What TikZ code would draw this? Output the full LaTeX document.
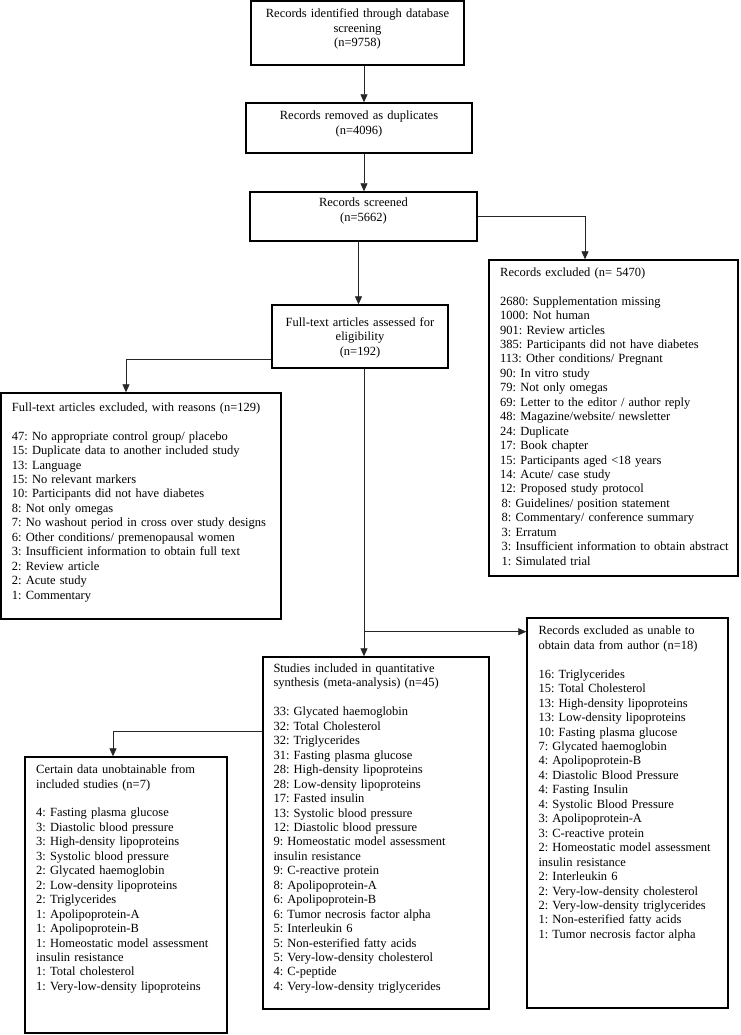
\documentclass[tikz,border=0pt]{standalone}
\usepackage{fontspec}
\setmainfont{Liberation Serif}
\usetikzlibrary{arrows.meta}
\newcommand\gapline{\\[14.45pt]}
\begin{document}
\frenchspacing
\begin{tikzpicture}[x=1pt,y=-1pt,
  box/.style={draw=black, line width=1.4pt, inner sep=0pt, rectangle},
  conn/.style={draw=black!85, line width=0.8pt, -{Triangle[length=8pt,width=7pt]}},
  lt/.style={inner sep=0pt, anchor=base west, align=left, text width=#1,
             font=\fontsize{12.5}{14.45}\selectfont\frenchspacing},
  ct/.style={inner sep=0pt, anchor=base, align=center, text width=#1,
             font=\fontsize{12.5}{14.45}\selectfont\frenchspacing}]
\useasboundingbox[fill=white] (0,0) rectangle (740,1035);

% boxes
\node[box, minimum width=213pt, minimum height=64pt] (b1) at (357.5,33) {};
\node[box, minimum width=226pt, minimum height=50pt] (b2) at (359,128) {};
\node[box, minimum width=227pt, minimum height=49pt] (b3) at (363.5,216.5) {};
\node[box, minimum width=249pt, minimum height=316pt] (exc) at (613.5,418) {};
\node[box, minimum width=176pt, minimum height=63pt] (ft) at (360,336.5) {};
\node[box, minimum width=280pt, minimum height=226pt] (ftx) at (141,506) {};
\node[box, minimum width=226pt, minimum height=352pt] (inc) at (376,833) {};
\node[box, minimum width=201pt, minimum height=390pt] (unab) at (627.5,813) {};
\node[box, minimum width=202pt, minimum height=276pt] (cert) at (126,895) {};

% texts
\node[ct=205pt] (t1) at (357.5,17.9) {Records identified through database\\screening\\(n=9758)};
\node[ct=215pt] (t2) at (359,119.6) {Records removed as duplicates\\(n=4096)};
\node[ct=215pt] (t3) at (363.5,206.9) {Records screened\\(n=5662)};
\node[ct=170pt] (tft) at (360,326.2) {Full-text articles assessed for\\eligibility\\(n=192)};

\node[lt=235pt] (texc) at (500,276.2) {Records excluded (n= 5470)\gapline
2680: Supplementation missing\\
1000: Not human\\
901: Review articles\\
385: Participants did not have diabetes\\
113: Other conditions/ Pregnant\\
90: In vitro study\\
79: Not only omegas\\
69: Letter to the editor / author reply\\
48: Magazine/website/ newsletter\\
24: Duplicate\\
17: Book chapter\\
15: Participants aged <18 years\\
14: Acute/ case study\\
12: Proposed study protocol\\
\hspace*{1.5pt}8: Guidelines/ position statement\\
\hspace*{1.5pt}8: Commentary/ conference summary\\
\hspace*{1.5pt}3: Erratum\\
\hspace*{1.5pt}3: Insufficient information to obtain abstract\\
\hspace*{1.5pt}1: Simulated trial};

\node[lt=265pt] (tftx) at (11.7,411.2) {Full-text articles excluded, with reasons (n=129)\gapline
47: No appropriate control group/ placebo\\
15: Duplicate data to another included study\\
13: Language\\
15: No relevant markers\\
10: Participants did not have diabetes\\
8: Not only omegas\\
7: No washout period in cross over study designs\\
6: Other conditions/ premenopausal women\\
3: Insufficient information to obtain full text\\
2: Review article\\
2: Acute study\\
1: Commentary};

\node[lt=212pt] (tinc) at (273.3,672.5) {Studies included in quantitative\\
synthesis (meta-analysis) (n=45)\gapline
33: Glycated haemoglobin\\
32: Total Cholesterol\\
32: Triglycerides\\
31: Fasting plasma glucose\\
28: High-density lipoproteins\\
28: Low-density lipoproteins\\
17: Fasted insulin\\
13: Systolic blood pressure\\
12: Diastolic blood pressure\\
9: Homeostatic model assessment\\
insulin resistance\\
9: C-reactive protein\\
8: Apolipoprotein-A\\
6: Apolipoprotein-B\\
6: Tumor necrosis factor alpha\\
5: Interleukin 6\\
5: Non-esterified fatty acids\\
5: Very-low-density cholesterol\\
4: C-peptide\\
4: Very-low-density triglycerides};

\node[lt=188pt] (tunab) at (538.3,634.9) {Records excluded as unable to\\
obtain data from author (n=18)\gapline
16: Triglycerides\\
15: Total Cholesterol\\
13: High-density lipoproteins\\
13: Low-density lipoproteins\\
10: Fasting plasma glucose\\
7: Glycated haemoglobin\\
4: Apolipoprotein-B\\
4: Diastolic Blood Pressure\\
4: Fasting Insulin\\
4: Systolic Blood Pressure\\
3: Apolipoprotein-A\\
3: C-reactive protein\\
2: Homeostatic model assessment\\
insulin resistance\\
2: Interleukin 6\\
2: Very-low-density cholesterol\\
2: Very-low-density triglycerides\\
1: Non-esterified fatty acids\\
1: Tumor necrosis factor alpha};

\node[lt=188pt] (tcert) at (36,773.6) {Certain data unobtainable from\\
included studies (n=7)\gapline
4: Fasting plasma glucose\\
3: Diastolic blood pressure\\
3: High-density lipoproteins\\
3: Systolic blood pressure\\
2: Glycated haemoglobin\\
2: Low-density lipoproteins\\
2: Triglycerides\\
1: Apolipoprotein-A\\
1: Apolipoprotein-B\\
1: Homeostatic model assessment\\
insulin resistance\\
1: Total cholesterol\\
1: Very-low-density lipoproteins};

% helper coordinates
\coordinate (cA) at (364,0);
\coordinate (cB) at (358.5,0);
\coordinate (cC) at (585,0);
\coordinate (cD) at (126,0);
\coordinate (cE) at (113,0);
\coordinate (rA) at (0,359);
\coordinate (rB) at (0,731.7);
\coordinate (jA) at (364,631.7);

% connectors
\draw[conn] (b1.south -| cA) -- (b2.north -| cA);
\draw[conn] (b2.south -| cA) -- (b3.north -| cA);
\draw[conn] (b3.south -| cB) -- (ft.north -| cB);
\draw[conn] (b3.east) -| (exc.north -| cC);
\draw[conn] (ft.west |- rA) -| (ftx.north -| cD);
\draw[conn] (ft.south -| cA) -- (inc.north -| cA);
\draw[conn] (jA) -- (unab.west |- jA);
\draw[conn] (inc.west |- rB) -| (cert.north -| cE);
\end{tikzpicture}
\end{document}
